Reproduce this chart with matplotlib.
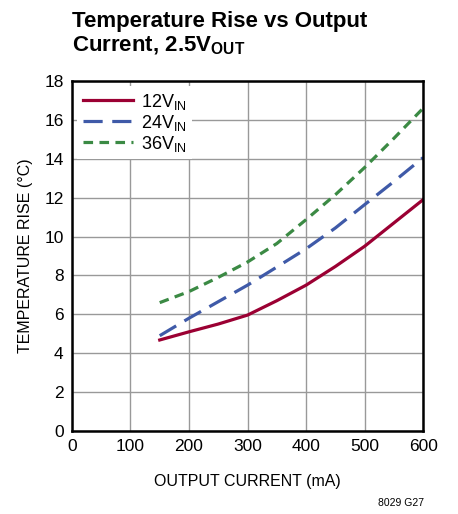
import numpy as np
import matplotlib.pyplot as plt

plt.rcParams['font.family'] = ['Liberation Sans', 'DejaVu Sans']
plt.rcParams['mathtext.fontset'] = 'custom'
plt.rcParams['mathtext.rm'] = 'Liberation Sans'
plt.rcParams['mathtext.bf'] = 'Liberation Sans:bold'

current = [150, 200, 250, 300, 350, 400, 450, 500, 550, 600]
rise_12v = [4.68, 5.1, 5.5, 5.96, 6.7, 7.5, 8.46, 9.5, 10.7, 11.9]
rise_24v = [4.9, 5.8, 6.65, 7.5, 8.43, 9.37, 10.44, 11.64, 12.83, 14.06]
rise_36v = [6.6, 7.17, 7.9, 8.69, 9.64, 10.87, 12.15, 13.55, 15.05, 16.6]
labels = [r'12V$_{\mathregular{IN}}$', r'24V$_{\mathregular{IN}}$', r'36V$_{\mathregular{IN}}$']

fig = plt.figure(figsize=(4.58, 5.14), dpi=100)
ax = fig.add_axes([0.157, 0.1615, 0.767, 0.681])

ax.plot(current, rise_12v, color='#9b0033', lw=2.3, label=labels[0])
ax.plot(current, rise_24v, color='#3f5aa8', lw=2.3, dashes=(6, 3), label=labels[1])
ax.plot(current, rise_36v, color='#3b8a44', lw=2.3, dashes=(3, 2), label=labels[2])

ax.set_xlim(0, 600)
ax.set_ylim(0, 18)
ax.set_xticks(range(0, 601, 100))
ax.set_yticks(range(0, 19, 2))
ax.grid(True, color='#999999', lw=1)
ax.tick_params(length=0, labelsize=12.5, pad=6)
for s in ax.spines.values():
    s.set_linewidth(1.8)

ax.set_xlabel('OUTPUT CURRENT (mA)', fontsize=11.5, labelpad=14)
ax.set_ylabel('TEMPERATURE RISE (°C)', fontsize=11.5, labelpad=8)

leg = ax.legend(loc='upper left', fontsize=13, frameon=True, fancybox=False,
                edgecolor='none', framealpha=1, handlelength=2.8,
                borderaxespad=0.3, labelspacing=0.05, handletextpad=0.4,
                borderpad=0.3)

fig.text(0.158, 0.978, 'Temperature Rise vs Output\nCurrent, 2.5V$_{\\mathbf{OUT}}$',
         fontsize=16, fontweight='bold', va='top', ha='left', linespacing=1.15)
fig.text(0.925, 0.012, '8029 G27', fontsize=7.5, ha='right', va='bottom')

plt.savefig('out.png', dpi=100)
